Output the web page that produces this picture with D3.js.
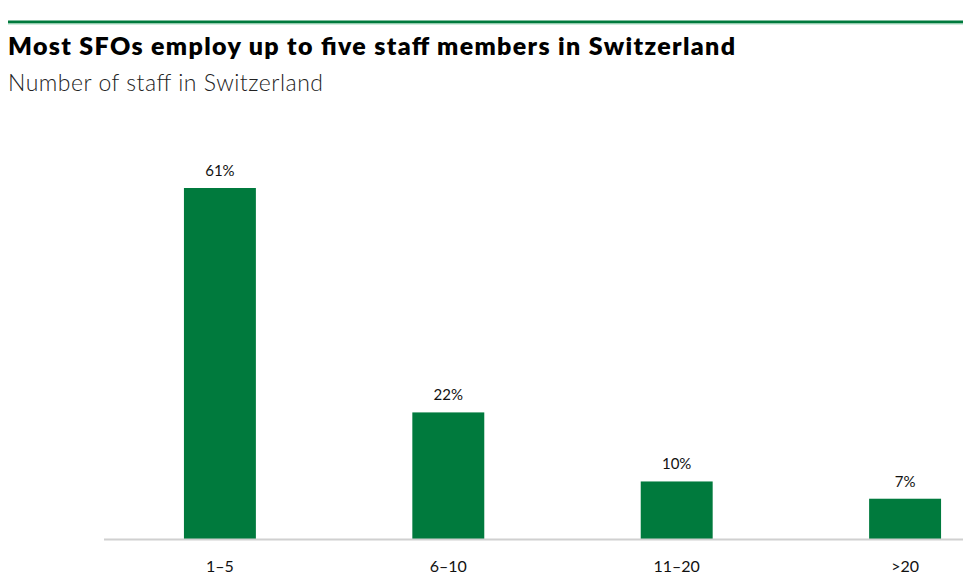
<!DOCTYPE html>
<html lang="en">
<head>
    <meta charset="UTF-8">
    <title>SFO staff</title>
    <style>
        body { margin: 0; background: #fff; }
        text { font-family: Lato, "Open Sans", sans-serif; }
    </style>
</head>
<body>
<div id="chart"></div>
<script src="https://cdn.jsdelivr.net/npm/d3@7"></script>
<script>
    const categories = ["1–5", "6–10", "11–20", ">20"];
    const shares = [61, 22, 10, 7];

    const width = 963, height = 582;
    const green = "#007a3d";

    const svg = d3.select("#chart")
        .append("svg")
        .attr("width", width)
        .attr("height", height);

    // top rule
    svg.append("line")
        .attr("x1", 8).attr("x2", width)
        .attr("y1", 22).attr("y2", 22)
        .attr("stroke", green)
        .attr("stroke-width", 3);
    svg.append("line")
        .attr("x1", 8).attr("x2", width)
        .attr("y1", 24).attr("y2", 24)
        .attr("stroke", "#a8dcbf")
        .attr("stroke-width", 1);

    svg.append("text")
        .attr("x", 8).attr("y", 55)
        .attr("font-size", 25)
        .attr("font-weight", 800)
        .attr("fill", "#000")
        .attr("textLength", 727)
        .attr("lengthAdjust", "spacing")
        .text("Most SFOs employ up to five staff members in Switzerland");

    svg.append("text")
        .attr("x", 8).attr("y", 91)
        .attr("font-size", 23)
        .attr("font-weight", 300)
        .attr("fill", "#222")
        .attr("textLength", 315)
        .attr("lengthAdjust", "spacing")
        .text("Number of staff in Switzerland");

    const baseY = 539;

    const x = d3.scaleBand()
        .domain(categories)
        .range([104, 1021])
        .paddingInner(0.685)
        .paddingOuter(0.35);

    const y = d3.scaleLinear()
        .domain([0, 61])
        .range([baseY, 188]);

    const g = svg.append("g");

    g.selectAll("rect")
        .data(categories)
        .join("rect")
        .attr("x", d => x(d))
        .attr("width", x.bandwidth())
        .attr("y", (d, i) => y(shares[i]))
        .attr("height", (d, i) => baseY - y(shares[i]))
        .attr("fill", green);

    g.selectAll(".val")
        .data(categories)
        .join("text")
        .attr("class", "val")
        .attr("x", d => x(d) + x.bandwidth() / 2)
        .attr("y", (d, i) => y(shares[i]) - 12)
        .attr("text-anchor", "middle")
        .attr("font-size", 15)
        .attr("fill", "#111")
        .text((d, i) => shares[i] + "%");

    // x axis
    const xAxis = d3.axisBottom(x).tickSize(0).tickPadding(22);
    const ax = svg.append("g")
        .attr("transform", `translate(0, ${baseY})`)
        .call(xAxis);
    ax.select(".domain").remove();
    ax.selectAll("text")
        .attr("font-size", 16)
        .attr("font-family", "Lato, sans-serif")
        .attr("fill", "#111");

    svg.append("line")
        .attr("x1", 104).attr("x2", width)
        .attr("y1", baseY + 0.5).attr("y2", baseY + 0.5)
        .attr("stroke", "#d0d0d0")
        .attr("stroke-width", 2);
</script>
</body>
</html>
